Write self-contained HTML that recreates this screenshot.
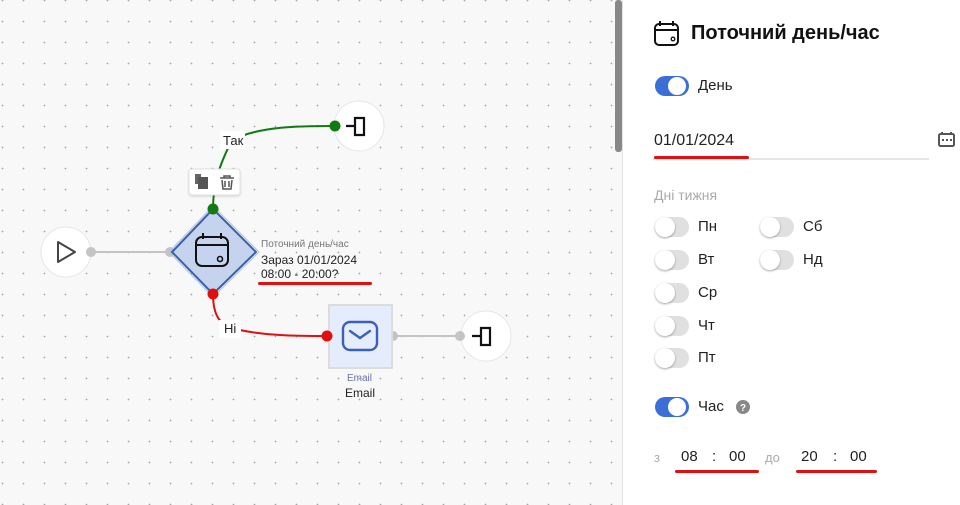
<!DOCTYPE html>
<html><head><meta charset="utf-8"><style>
*{margin:0;padding:0;box-sizing:border-box}
body{width:960px;height:505px;overflow:hidden;font-family:"Liberation Sans",sans-serif;background:#fff;position:relative}
#canvas{position:absolute;left:0;top:0;width:622px;height:505px;background-color:#f8f8f8;background-image:radial-gradient(circle,#a8a8a8 0.7px,transparent 1px);background-size:21px 21px;background-position:-8px -10px}
#sb{position:absolute;left:615px;top:0;width:7px;height:152px;background:#888;border-radius:3px}
#panel{position:absolute;left:622px;top:0;width:338px;height:505px;background:#fff;border-left:1px solid #e4e4e4}
.t{position:absolute;white-space:nowrap}
.tg{position:absolute;width:34px;height:20px;border-radius:10px;background:#e0e0e0}
.tg::after{content:"";position:absolute;left:0;top:0;width:20px;height:20px;border-radius:50%;background:#fff;box-shadow:0 1px 2px rgba(0,0,0,.35)}
.tg.on{background:#3a6fd8}
.tg.on::after{left:13px;top:1px;width:18px;height:18px;box-shadow:none}
.red{position:absolute;height:3px;background:#e01010;border-radius:2px}
</style></head><body>
<div id="canvas">
<svg width="622" height="505" style="position:absolute;left:0;top:0">
<line x1="91" y1="252" x2="170" y2="252" stroke="#c4c4c4" stroke-width="2"/>
<line x1="393" y1="336" x2="461" y2="336" stroke="#c4c4c4" stroke-width="2"/>
<path d="M213 209 C213 180 222 160 232 140 C260 126 300 126 335 126" stroke="#117a11" stroke-width="2" fill="none"/>
<path d="M213 294 C213 318 222 325 232 328 C260 336 300 336 327 336" stroke="#dd1111" stroke-width="2" fill="none"/>
<circle cx="66" cy="252" r="25" fill="#fff" stroke="#e6e6e6"/>
<path d="M58 242 L75 252 L58 262 Z" fill="none" stroke="#444" stroke-width="2" stroke-linejoin="round"/>
<circle cx="359" cy="126" r="25" fill="#fff" stroke="#e6e6e6"/>
<path d="M346 126 H355 M355 118 h9 v17 h-9 z" fill="none" stroke="#111" stroke-width="2.2"/>
<circle cx="486" cy="336" r="25" fill="#fff" stroke="#e6e6e6"/>
<path d="M472 336 H481 M481 328 h9 v17 h-9 z" fill="none" stroke="#111" stroke-width="2.2"/>
<circle cx="91" cy="252" r="5" fill="#c4c4c4"/>
<circle cx="170" cy="252" r="5" fill="#c4c4c4"/>
<circle cx="460" cy="336" r="5" fill="#c4c4c4"/>
<circle cx="393" cy="336" r="5" fill="#c4c4c4"/>
<polygon points="213,209 256,252 213,294 172,252" fill="#c5d3ee" stroke="#3a60a8" stroke-width="2" stroke-linejoin="round"/>
<polygon points="213,206 259,252 213,297 169,252" fill="none" stroke="#a9c1ef" stroke-width="1"/>
<rect x="196" y="237" width="32" height="29" rx="6" fill="none" stroke="#111" stroke-width="2"/>
<line x1="196" y1="245" x2="228" y2="245" stroke="#111" stroke-width="2"/>
<line x1="203" y1="233" x2="203" y2="239" stroke="#111" stroke-width="2"/>
<line x1="221" y1="233" x2="221" y2="239" stroke="#111" stroke-width="2"/>
<circle cx="220" cy="259" r="2.5" fill="none" stroke="#111" stroke-width="1.6"/>
<circle cx="213" cy="209" r="5.5" fill="#117a11"/>
<circle cx="213" cy="294" r="5.5" fill="#e01010"/>
<rect x="329" y="305" width="63" height="63" fill="#e5ecfc" stroke="#dcdcdc" stroke-width="2"/>
<rect x="343" y="322" width="34" height="28" rx="7" fill="none" stroke="#3a60b8" stroke-width="2.4"/>
<path d="M350 331 L360 338 L370 331" fill="none" stroke="#3a60b8" stroke-width="2.4" stroke-linecap="round"/>
<circle cx="327" cy="336" r="5.5" fill="#e01010"/>
<circle cx="335" cy="126" r="5.5" fill="#117a11"/>
<rect x="189" y="169" width="51" height="26" rx="3" fill="#fff" stroke="#e2e2e2" style="filter:drop-shadow(0 1px 1px rgba(0,0,0,.15))"/>
<rect x="195" y="174" width="6" height="10" fill="#666"/><rect x="198" y="177" width="10" height="12" fill="#555"/>
<path d="M220 178 h14 M224 178 v-2 h6 v2 M222 180 l1 9 h8 l1 -9 M225 181 v6 M229 181 v6" fill="none" stroke="#555" stroke-width="1.5"/>
<rect x="220" y="131" width="25" height="18" fill="#fff"/>
<rect x="219" y="320" width="22" height="18" fill="#fff"/>
</svg>
<div class="t" style="left:223px;top:133px;font-size:13px;color:#222">Так</div>
<div class="t" style="left:224px;top:321px;font-size:13px;color:#222">Ні</div>
<div class="t" style="left:261px;top:239px;font-size:10px;color:#777">Поточний день/час</div>
<div class="t" style="left:261px;top:253px;font-size:12px;color:#222">Зараз 01/01/2024</div>
<div class="t" style="left:261px;top:267px;font-size:12px;color:#222">08:00 - 20:00?</div>
<div class="red" style="left:258px;top:282px;width:114px"></div>
<div class="t" style="left:347px;top:373px;font-size:10px;color:#6a70b0">Email</div>
<div class="t" style="left:345px;top:386px;font-size:12px;color:#222">Email</div>
<div id="sb"></div>
</div>
<div id="panel">
<svg width="338" height="505" style="position:absolute;left:-1px;top:0">
<rect x="33" y="24" width="23" height="21" rx="4" fill="none" stroke="#111" stroke-width="2"/>
<line x1="33" y1="30" x2="56" y2="30" stroke="#111" stroke-width="2"/>
<line x1="38" y1="21" x2="38" y2="26" stroke="#111" stroke-width="2"/>
<line x1="51" y1="21" x2="51" y2="26" stroke="#111" stroke-width="2"/>
<circle cx="51" cy="39" r="1.8" fill="none" stroke="#111" stroke-width="1.3"/>
<line x1="31" y1="159" x2="307" y2="159" stroke="#ccc" stroke-width="1"/>
<rect x="317" y="134" width="15" height="12" rx="1.5" fill="none" stroke="#555" stroke-width="2"/>
<line x1="320" y1="132" x2="320" y2="135" stroke="#555" stroke-width="2"/><line x1="329" y1="132" x2="329" y2="135" stroke="#555" stroke-width="2"/>
<rect x="320" y="139" width="2" height="2" fill="#555"/><rect x="324" y="139" width="2" height="2" fill="#555"/><rect x="328" y="139" width="2" height="2" fill="#555"/>
<circle cx="121" cy="407" r="7" fill="#888"/>
<text x="121" y="411" font-size="10" font-weight="bold" fill="#fff" text-anchor="middle" font-family="Liberation Sans">?</text>
</svg>
<div class="t" style="left:68px;top:22px;font-size:20px;font-weight:bold;color:#111">Поточний день/час</div>
<div class="tg on" style="left:32px;top:76px"></div>
<div class="t" style="left:75px;top:77px;font-size:15px;color:#222">День</div>
<div class="t" style="left:31px;top:132px;font-size:16px;color:#222">01/01/2024</div>
<div class="red" style="left:31px;top:156px;width:95px"></div>
<div class="t" style="left:31px;top:187px;font-size:14px;color:#aaa">Дні тижня</div>
<div class="tg" style="left:32px;top:217px"></div><div class="t" style="left:75px;top:218px;font-size:15px;color:#222">Пн</div>
<div class="tg" style="left:137px;top:217px"></div><div class="t" style="left:180px;top:218px;font-size:15px;color:#222">Сб</div>
<div class="tg" style="left:32px;top:250px"></div><div class="t" style="left:75px;top:251px;font-size:15px;color:#222">Вт</div>
<div class="tg" style="left:137px;top:250px"></div><div class="t" style="left:180px;top:251px;font-size:15px;color:#222">Нд</div>
<div class="tg" style="left:32px;top:283px"></div><div class="t" style="left:75px;top:284px;font-size:15px;color:#222">Ср</div>
<div class="tg" style="left:32px;top:316px"></div><div class="t" style="left:75px;top:317px;font-size:15px;color:#222">Чт</div>
<div class="tg" style="left:32px;top:348px"></div><div class="t" style="left:75px;top:349px;font-size:15px;color:#222">Пт</div>
<div class="tg on" style="left:32px;top:397px"></div>
<div class="t" style="left:75px;top:398px;font-size:15px;color:#222">Час</div>
<div class="t" style="left:31px;top:450px;font-size:13px;color:#aaa">з</div>
<div class="t" style="left:58px;top:448px;font-size:15px;color:#222">08</div>
<div class="t" style="left:89px;top:448px;font-size:15px;color:#222">:</div>
<div class="t" style="left:106px;top:448px;font-size:15px;color:#222">00</div>
<div class="t" style="left:142px;top:450px;font-size:13px;color:#aaa">до</div>
<div class="t" style="left:178px;top:448px;font-size:15px;color:#222">20</div>
<div class="t" style="left:210px;top:448px;font-size:15px;color:#222">:</div>
<div class="t" style="left:227px;top:448px;font-size:15px;color:#222">00</div>
<div class="red" style="left:52px;top:470px;width:84px"></div>
<div class="red" style="left:173px;top:470px;width:81px"></div>
</div>
</body></html>
